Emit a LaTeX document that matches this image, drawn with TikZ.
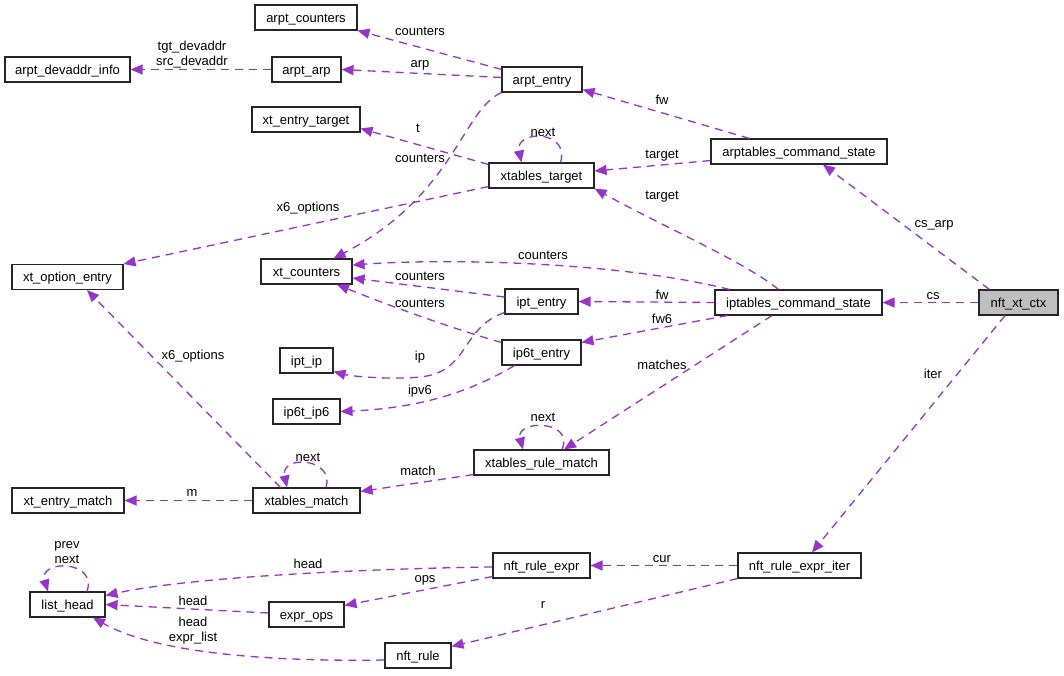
\documentclass[tikz,border=0pt]{standalone}
\usepackage{fontspec}
\setmainfont{Liberation Sans}
\usetikzlibrary{arrows.meta}
\definecolor{edgec}{HTML}{9A32CD}
\definecolor{grayfill}{HTML}{BFBFBF}
\begin{document}
\begin{tikzpicture}[x=1pt,y=-1pt,
  box/.style={draw=black!85,line width=1.1pt,rectangle,minimum height=25pt,inner sep=0pt,text height=12pt,text depth=3pt,font=\fontsize{13}{15}\selectfont,fill=white},
  lbl/.style={font=\fontsize{13}{15}\selectfont,inner sep=0pt,align=center},
  rel/.style={draw=edgec,line width=1.3pt,dash pattern=on 8pt off 6pt,-{Triangle[length=12pt,width=10pt]}}]
\useasboundingbox (0,0) rectangle (1064,675);
% nodes
\node[box,minimum width=102] (ac) at (306,17.5) {arpt\_counters};
\node[box,minimum width=125] (adi) at (67.5,69.5) {arpt\_devaddr\_info};
\node[box,minimum width=69] (arp) at (306.5,69.5) {arpt\_arp};
\node[box,minimum width=80] (ae) at (542,79.5) {arpt\_entry};
\node[box,minimum width=108] (xet) at (306,119.5) {xt\_entry\_target};
\node[box,minimum width=105] (xt) at (541.5,175.5) {xtables\_target};
\node[box,minimum width=176] (acs) at (799,151.5) {arptables\_command\_state};
\node[box,minimum width=111] (xoe) at (67.5,277) {xt\_option\_entry};
\node[box,minimum width=91] (xtc) at (306.5,271.5) {xt\_counters};
\node[box,minimum width=73] (ipe) at (541.5,301.5) {ipt\_entry};
\node[box,minimum width=167] (ics) at (798.5,302.5) {iptables\_command\_state};
\node[box,minimum width=79,fill=grayfill] (nxc) at (1018.5,302.5) {nft\_xt\_ctx};
\node[box,minimum width=79] (i6e) at (541.5,352.5) {ip6t\_entry};
\node[box,minimum width=53] (ipt) at (306.5,360.5) {ipt\_ip};
\node[box,minimum width=67] (ip6) at (306.5,411.5) {ip6t\_ip6};
\node[box,minimum width=135] (xrm) at (541.5,462.5) {xtables\_rule\_match};
\node[box,minimum width=112] (xem) at (68,500.5) {xt\_entry\_match};
\node[box,minimum width=107] (xm) at (306.5,500.5) {xtables\_match};
\node[box,minimum width=75] (lh) at (67.5,604.5) {list\_head};
\node[box,minimum width=97] (nre) at (541.5,565.5) {nft\_rule\_expr};
\node[box,minimum width=75] (eo) at (306.5,614.5) {expr\_ops};
\node[box,minimum width=66] (nr) at (418,655.5) {nft\_rule};
\node[box,minimum width=123] (nrei) at (799.5,565.5) {nft\_rule\_expr\_iter};
% edges
\draw[rel] ([shift={(0,3)}]ae.north west) -- (ac.south east);
\draw[rel] ([shift={(0,-2)}]ae.west) -- (arp.east);
\draw[rel] (arp.west) -- (adi.east);
\draw[rel] ([shift={(39,0)}]acs.north west) -- ([shift={(0,-3)}]ae.south east);
\draw[rel] (ae.south west) .. controls (462,110) and (455,195) .. ([shift={(27,0)}]xtc.north);
\draw[rel] ([shift={(0,2)}]xt.north west) -- ([shift={(0,-4)}]xet.south east);
\draw[rel] ([shift={(19,0)}]xt.north) .. controls +(10,-33) and +(-7,-33) .. ([shift={(-20,0)}]xt.north);
\draw[rel] ([shift={(0,-4)}]acs.south west) -- ([shift={(0,-4.5)}]xt.east);
\draw[rel] ([shift={(0,-2)}]xt.south west) -- (xoe.north east);
\draw[rel] ([shift={(-20,0)}]ics.north) .. controls (745,262) and (660,225) .. (xt.south east);
\draw[rel] ([shift={(15,0)}]ics.north west) .. controls (620,262) and (450,258) .. ([shift={(0,-6.5)}]xtc.east);
\draw[rel] ([shift={(0,-4.5)}]ipe.west) -- ([shift={(0,6.5)}]xtc.east);
\draw[rel] ([shift={(0,3)}]i6e.north west) .. controls (440,325) and (370,298) .. ([shift={(30.5,0)}]xtc.south);
\draw[rel] (ics.west) -- (ipe.east);
\draw[rel] ([shift={(13,0)}]ics.south west) -- ([shift={(0,3)}]i6e.north east);
\draw[rel] ([shift={(0,-2)}]ipe.south west) .. controls (460,328) and (470,372) .. (420,377) .. controls (390,380) and (350,376) .. ([shift={(0,-2)}]ipt.south east);
\draw[rel] ([shift={(13,0)}]i6e.south west) .. controls (470,392) and (420,408) .. (ip6.east);
\draw[rel] ([shift={(-26.5,0)}]ics.south) -- ([shift={(22.5,0)}]xrm.north);
\draw[rel] ([shift={(20.5,0)}]xrm.north) .. controls +(13,-30) and +(-8,-30) .. ([shift={(-18.5,0)}]xrm.north);
\draw[rel] ([shift={(0,-1)}]xrm.south west) -- ([shift={(0,4)}]xm.north east);
\draw[rel] ([shift={(19.5,0)}]xm.north) .. controls +(9,-30) and +(-7,-33) .. ([shift={(-19.5,0)}]xm.north);
\draw[rel] ([shift={(-26,0)}]xm.north) -- ([shift={(19.5,0)}]xoe.south);
\draw[rel] (xm.west) -- (xem.east);
\draw[rel] ([shift={(11,0)}]nxc.north west) -- ([shift={(24,0)}]acs.south);
\draw[rel] (nxc.west) -- (ics.east);
\draw[rel] ([shift={(-13.5,0)}]nxc.south) -- ([shift={(12.5,0)}]nrei.north);
\draw[rel] (nrei.west) -- (nre.east);
\draw[rel] (nrei.south west) -- ([shift={(0,4)}]nr.north east);
\draw[rel] ([shift={(0,1.5)}]nre.west) .. controls (400,568) and (200,575) .. ([shift={(0,4)}]lh.north east);
\draw[rel] ([shift={(0,-2)}]nre.south west) -- ([shift={(0,4)}]eo.north east);
\draw[rel] ([shift={(0,-1.5)}]eo.west) -- (lh.east);
\draw[rel] ([shift={(0,4.5)}]nr.west) .. controls (250,662) and (150,650) .. ([shift={(25.5,0)}]lh.south);
\draw[rel] ([shift={(19.5,0)}]lh.north) .. controls +(11,-32) and +(-10,-32) .. ([shift={(-19.5,0)}]lh.north);
% labels
\node[lbl] (l1) at (420,31) {counters};
\node[lbl] (l2) at (420,65) {arp};
\node[lbl] (l3) at (192,55) {tgt\_devaddr\\src\_devaddr};
\node[lbl] (l4) at (662,100) {fw};
\node[lbl] (l5) at (420,158) {counters};
\node[lbl] (l6) at (418,128) {t};
\node[lbl] (l7) at (543,132) {next};
\node[lbl] (l8) at (662,156) {target};
\node[lbl] (l9) at (308,208) {x6\_options};
\node[lbl] (l10) at (662,197) {target};
\node[lbl] (l11) at (543,255) {counters};
\node[lbl] (l12) at (420,276) {counters};
\node[lbl] (l13) at (420,303) {counters};
\node[lbl] (l14) at (662,295) {fw};
\node[lbl] (l15) at (662,319) {fw6};
\node[lbl] (l16) at (420,357) {ip};
\node[lbl] (l17) at (420,391) {ipv6};
\node[lbl] (l18) at (662,365) {matches};
\node[lbl] (l19) at (543,417) {next};
\node[lbl] (l20) at (418,471) {match};
\node[lbl] (l21) at (308,457) {next};
\node[lbl] (l22) at (193,356) {x6\_options};
\node[lbl] (l23) at (192,493) {m};
\node[lbl] (l24) at (934,225) {cs\_arp};
\node[lbl] (l25) at (933,296) {cs};
\node[lbl] (l26) at (933,374) {iter};
\node[lbl] (l27) at (662,559) {cur};
\node[lbl] (l28) at (543,605) {r};
\node[lbl] (l29) at (308,564) {head};
\node[lbl] (l30) at (425,580) {ops};
\node[lbl] (l31) at (193,601) {head};
\node[lbl] (l32) at (193,631) {head\\expr\_list};
\node[lbl] (l33) at (67,553) {prev\\next};
\end{tikzpicture}
\end{document}
